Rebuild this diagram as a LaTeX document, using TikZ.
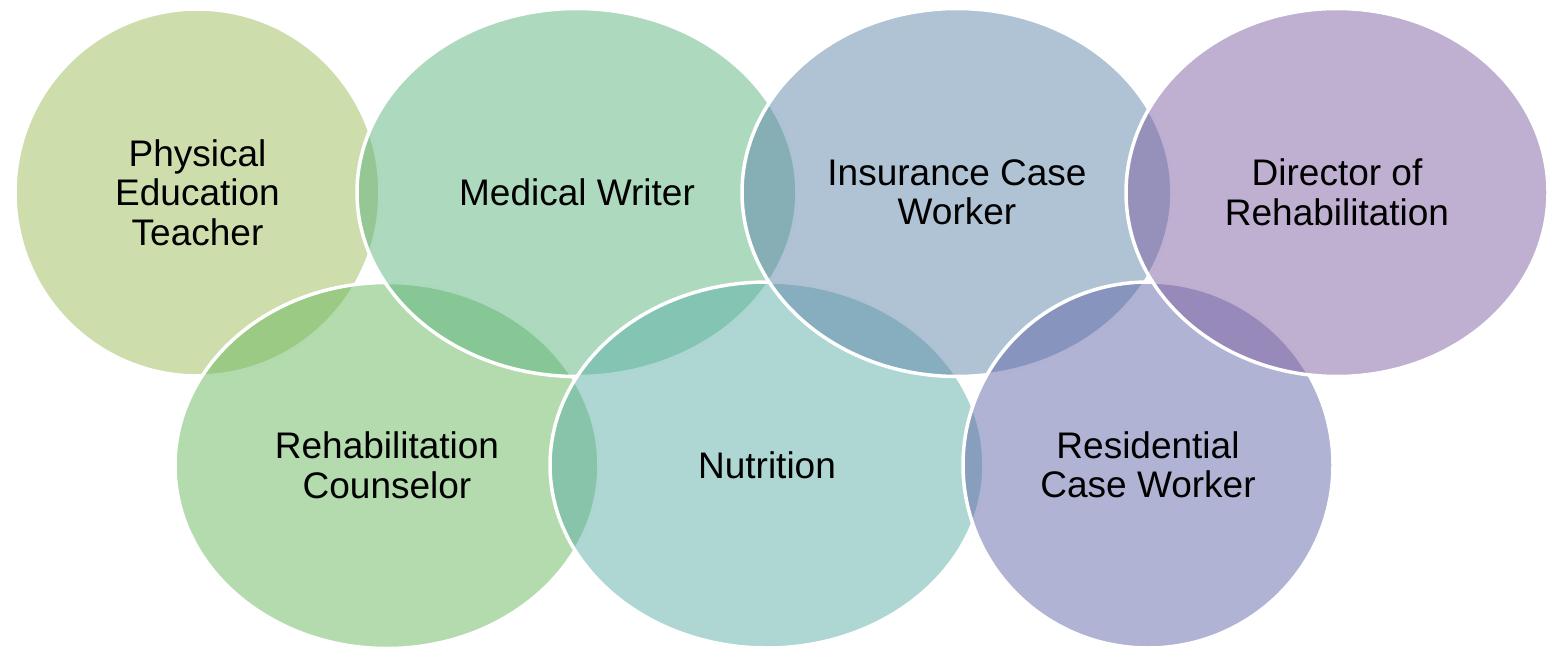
\documentclass[tikz,border=0pt]{standalone}
\usepackage{fontspec}
\setmainfont{Liberation Sans}
\usetikzlibrary{shapes.geometric}
\definecolor{cPhys}{RGB}{157,187,89}
\definecolor{cRehab}{RGB}{103,183,93}
\definecolor{cMed}{RGB}{91,179,125}
\definecolor{cNutr}{RGB}{93,175,167}
\definecolor{cIns}{RGB}{95,135,171}
\definecolor{cRes}{RGB}{97,103,167}
\definecolor{cDir}{RGB}{127,97,163}
\tikzset{
  blob/.style={ellipse, draw=white, line width=3.5pt, fill opacity=0.5,
    draw opacity=1, text opacity=1, inner sep=0pt, align=center,
    font=\fontsize{37}{39.5}\selectfont, text=black}
}
\begin{document}
\begin{tikzpicture}[x=1pt,y=1pt]
\useasboundingbox (0,0) rectangle (1549,649);
\node[blob, fill=cPhys, minimum width=365pt, minimum height=367pt] (phys) at (197.5,456.5) {Physical\\Education\\Teacher};
\node[blob, fill=cRehab, minimum width=424pt, minimum height=366pt] (rehab) at (387,183.5) {Rehabilitation\\Counselor};
\node[blob, fill=cMed, minimum width=440pt, minimum height=368pt] (med) at (577,456.5) {Medical Writer};
\node[blob, fill=cNutr, minimum width=434pt, minimum height=366pt] (nutr) at (767,184) {Nutrition};
\node[blob, fill=cIns, minimum width=430pt, minimum height=368pt] (ins) at (957,456.5) {Insurance Case\\Worker};
\node[blob, fill=cRes, minimum width=370pt, minimum height=366pt] (res) at (1148,184) {Residential\\Case Worker};
\node[blob, fill=cDir, minimum width=422pt, minimum height=368pt] (dir) at (1337,456.5) {Director of\\Rehabilitation};
\end{tikzpicture}
\end{document}
